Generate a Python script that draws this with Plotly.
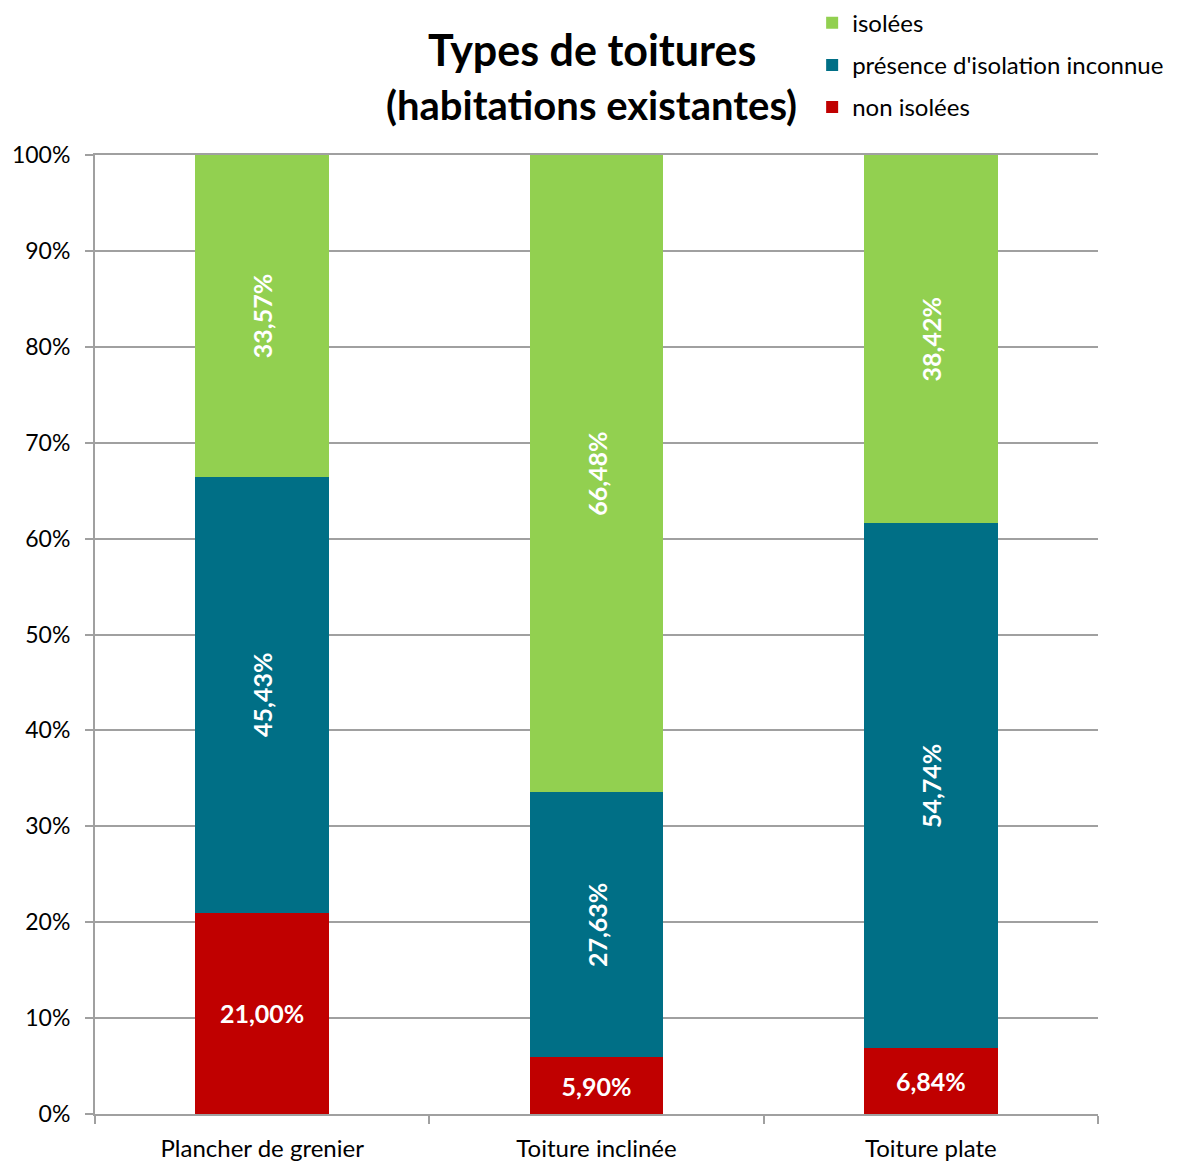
import plotly.graph_objects as go

categories = ["Plancher de grenier", "Toiture inclinée", "Toiture plate"]
non_isolees = [21.00, 5.90, 6.84]
inconnue = [45.43, 27.63, 54.74]
isolees = [33.57, 66.48, 38.42]
tick_vals = [0, 10, 20, 30, 40, 50, 60, 70, 80, 90, 100]
tick_text = [f"{v}%" for v in tick_vals]

FONT = "Lato"
fig = go.Figure()
series = [
    ("non isolées", non_isolees, "#C00000", 0, 3),
    ("présence d'isolation inconnue", inconnue, "#006F86", -90, 2),
    ("isolées", isolees, "#92D050", -90, 1),
]
for name, vals, color, ang, rank in series:
    fig.add_trace(go.Bar(
        x=categories, y=vals, name=name, legendgroup=name, legendrank=rank,
        marker=dict(color=color, line=dict(width=0)),
        texttemplate="%{y:.2f}%", textposition="inside",
        insidetextanchor="middle", textangle=ang,
        textfont=dict(family=FONT, size=25, color="white", weight="bold"),
        constraintext="none",
    ))

fig.update_layout(
    barmode="stack", bargap=0.6,
    separators=", ",
    width=1172, height=1154,
    margin=dict(l=87, r=82, t=147, b=48, autoexpand=False),
    paper_bgcolor="white", plot_bgcolor="white",
    font=dict(family=FONT, size=22, color="black"),
    showlegend=True,
    legend=dict(x=0.715, y=1.161, xanchor="left", yanchor="top",
                traceorder="grouped", tracegroupgap=8,
                font=dict(family=FONT, size=24, color="black"),
                itemwidth=30, bgcolor="rgba(0,0,0,0)"),
    annotations=[
        dict(text="<b>Types de toitures</b>", x=0.4955, y=1.1095, xref="paper", yref="paper",
             xanchor="center", yanchor="middle", showarrow=False,
             font=dict(family=FONT, size=43, color="black")),
        dict(text="<b>(habitations existantes)</b>", x=0.4955, y=1.052, xref="paper", yref="paper",
             xanchor="center", yanchor="middle", showarrow=False,
             font=dict(family=FONT, size=40, color="black")),
    ],
)
fig.update_yaxes(range=[0, 100], tickvals=tick_vals, ticktext=tick_text,
                 showgrid=True, gridcolor="#A0A0A0", gridwidth=2,
                 showline=True, linecolor="#A0A0A0", linewidth=2,
                 ticks="outside", ticklen=8, tickcolor="#A0A0A0", tickwidth=2,
                 ticklabelstandoff=10,
                 zeroline=False, tickfont=dict(family=FONT, size=23))
fig.update_xaxes(showline=True, linecolor="#A0A0A0", linewidth=2, mirror=True,
                 ticks="outside", tickson="boundaries", ticklen=8,
                 tickcolor="#A0A0A0", tickwidth=2, ticklabelstandoff=12,
                 tickfont=dict(family=FONT, size=24))

fig.write_html("out.html")
